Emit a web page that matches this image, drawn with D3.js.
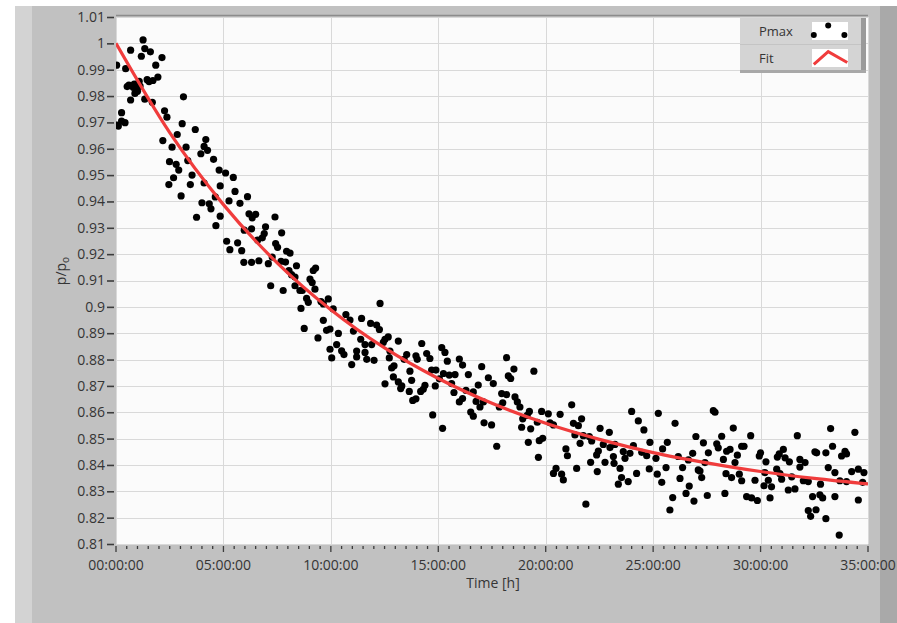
<!DOCTYPE html>
<html>
<head>
<meta charset="utf-8">
<script src="https://cdn.jsdelivr.net/npm/d3@7"></script>
<style>
  body { margin: 0; background: #fff; }
  svg { display: block; font-family: "Open Sans", "Noto Sans", sans-serif; }
</style>
</head>
<body>
<svg id="chart" width="897" height="623"></svg>
<script>
// Pmax samples: [time in hours, p/p0]
const pmaxPoints = [
  [1.26,1.0013],[1.34,0.998],[1.6,0.9968],[0.68,0.9974],[1.18,0.9951],[2.14,0.9946],[0.03,0.9917],[0.45,0.9904],
  [1.85,0.9917],[1.95,0.9872],[1.72,0.9859],[1.54,0.9855],[1.08,0.9856],[0.52,0.9836],[0.8,0.9833],[0.95,0.9827],
  [0.88,0.981],[0.68,0.9785],[1.34,0.9788],[1.69,0.9776],[3.14,0.9797],[0.26,0.9737],[0.26,0.9705],[0.42,0.9699],
  [0.11,0.9686],[0.05,0.969],[2.26,0.9744],[2.37,0.972],[3.08,0.9695],[3.69,0.9673],[2.85,0.9654],[2.18,0.9631],
  [2.61,0.9606],[3.26,0.9606],[4.18,0.9635],[4.1,0.9609],[3.95,0.9581],[4.26,0.9594],[3.34,0.9555],[2.49,0.9551],
  [2.8,0.9541],[4.54,0.956],[2.92,0.9519],[3.54,0.95],[4.8,0.9519],[2.68,0.949],[2.46,0.9464],[3.46,0.9464],
  [4.1,0.947],[4.85,0.9459],[3.03,0.9421],[4.62,0.9417],[4.0,0.9395],[4.34,0.9391],[4.42,0.9372],[3.75,0.934],
  [4.85,0.9344],[4.65,0.9308],[0.85,0.9845],[1.0,0.9818],[1.12,0.9838],[0.6,0.9842],[1.45,0.9862],
  // 5 - 10 h
  [5.1,0.9508],[5.46,0.9491],[5.54,0.9438],[5.26,0.9402],[5.77,0.9393],[6.12,0.9418],[6.19,0.9353],[6.5,0.9351],
  [6.34,0.9338],[7.4,0.9341],[5.97,0.9291],[6.31,0.9296],[6.96,0.9304],[6.9,0.9278],[6.81,0.9262],[6.59,0.9253],
  [7.71,0.9281],[5.15,0.9249],[5.66,0.9243],[5.3,0.9217],[5.85,0.9213],[7.43,0.924],[7.52,0.9226],[7.94,0.9211],
  [8.1,0.9204],[7.27,0.9189],[5.95,0.9169],[6.31,0.9169],[6.65,0.9175],[7.09,0.9164],[7.68,0.9173],[7.89,0.917],
  [8.4,0.9156],[8.05,0.9138],[8.17,0.9122],[9.29,0.9147],[9.18,0.9138],[8.33,0.9113],[9.03,0.9105],[9.13,0.9092],
  [7.2,0.908],[7.78,0.9062],[8.33,0.908],[8.56,0.9062],[8.67,0.9062],[9.26,0.9067],[8.87,0.9032],[8.95,0.9017],
  [8.61,0.8994],[9.54,0.902],[9.65,0.9011],[9.88,0.903],[9.65,0.8949],[8.76,0.8918],[9.8,0.8911],[9.4,0.8882],
  // 10 - 15 h
  [10.11,0.8992],[9.96,0.8916],[12.29,0.9013],[10.7,0.8971],[10.89,0.895],[11.43,0.8956],[11.85,0.8937],[12.13,0.8931],
  [12.26,0.8914],[11.05,0.8908],[10.35,0.8899],[11.39,0.8877],[12.52,0.8877],[12.67,0.8886],[13.14,0.887],[14.23,0.8861],
  [10.27,0.8857],[11.59,0.8857],[11.9,0.8857],[12.44,0.8865],[9.96,0.8839],[10.5,0.8833],[10.61,0.8819],[11.2,0.8832],
  [11.59,0.8827],[12.75,0.8832],[13.53,0.8819],[13.96,0.8814],[14.46,0.8823],[10.04,0.8806],[11.2,0.881],[11.67,0.8801],
  [12.01,0.8797],[12.72,0.8806],[13.41,0.8801],[14.02,0.8801],[14.61,0.8804],[10.97,0.8781],[12.94,0.8776],[12.83,0.8768],
  [13.68,0.8756],[14.69,0.876],[14.89,0.876],[12.91,0.8734],[13.14,0.8715],[15.05,0.8727],[12.52,0.8708],[13.3,0.87],
  [13.25,0.869],[13.76,0.8721],[14.38,0.8702],[14.3,0.8687],[14.86,0.87],[13.65,0.8679],[14.18,0.8679],[13.96,0.8651],
  [13.81,0.8645],[14.74,0.859],
  // 15 - 20 h
  [15.16,0.8845],[15.31,0.8827],[15.42,0.8794],[15.98,0.8802],[16.13,0.8779],[18.18,0.8807],[17.02,0.8773],[18.52,0.8764],
  [19.45,0.8756],[15.24,0.8747],[15.51,0.8741],[15.78,0.8743],[16.4,0.8743],[18.26,0.8738],[18.37,0.8728],[17.33,0.8731],
  [17.56,0.8709],[15.62,0.8709],[16.86,0.8703],[16.29,0.8683],[16.63,0.8677],[15.73,0.8675],[17.95,0.8671],[18.18,0.8667],
  [18.57,0.8658],[16.13,0.8652],[15.98,0.8639],[16.76,0.8641],[17.1,0.8639],[18.0,0.8636],[18.68,0.8639],[16.94,0.862],
  [17.84,0.862],[18.8,0.862],[19.81,0.8603],[19.24,0.8603],[20.12,0.8594],[16.51,0.8601],[16.63,0.8585],[19.14,0.8588],
  [18.93,0.8575],[19.61,0.8562],[20.2,0.856],[17.13,0.856],[17.48,0.8552],[15.2,0.8539],[18.88,0.8543],[19.3,0.8537],
  [19.86,0.8501],[19.7,0.8492],[19.19,0.8486],[17.72,0.8471],[19.66,0.8429],
  // 20 - 27 h
  [21.21,0.8628],[24.0,0.8603],[25.24,0.8596],[20.67,0.8592],[24.31,0.8567],[21.67,0.8575],[26.02,0.8558],[21.29,0.8558],
  [21.52,0.8549],[20.36,0.8552],[22.53,0.8539],[24.57,0.8533],[22.96,0.8524],[21.36,0.8514],[21.75,0.8511],[22.03,0.8508],
  [26.99,0.8508],[22.14,0.8491],[21.6,0.8482],[24.85,0.8486],[25.66,0.8486],[22.68,0.8478],[23.22,0.8478],[24.08,0.8473],
  [22.99,0.8466],[20.94,0.8461],[25.44,0.8461],[22.45,0.8453],[23.61,0.8451],[23.92,0.8444],[24.47,0.8448],[26.84,0.8444],
  [21.01,0.8435],[22.37,0.8438],[23.15,0.8432],[24.7,0.8435],[26.17,0.8432],[25.13,0.8425],[26.64,0.8419],[22.09,0.841],
  [22.76,0.841],[23.18,0.8406],[23.69,0.8425],[21.44,0.8387],[20.48,0.8387],[23.46,0.8387],[24.82,0.8385],[25.6,0.839],
  [26.37,0.839],[27.1,0.8381],[22.4,0.8375],[20.36,0.8368],[20.74,0.8365],[24.23,0.8368],[25.19,0.8365],[23.53,0.8352],
  [26.25,0.8349],[20.82,0.8343],[23.84,0.8337],[25.4,0.8334],[23.38,0.8327],[26.68,0.832],[26.53,0.8292],[25.91,0.8276],
  [26.9,0.8263],[21.87,0.8251],[25.78,0.8229],
  // 27 - 35 h
  [27.88,0.86],[27.8,0.8606],[28.73,0.854],[28.19,0.8509],[29.54,0.8511],[31.71,0.8511],[33.26,0.8538],[34.39,0.8524],
  [27.34,0.8484],[27.96,0.848],[28.03,0.8465],[28.58,0.8459],[29.12,0.8471],[29.23,0.8471],[33.35,0.8471],[31.06,0.8459],
  [32.53,0.845],[32.61,0.8446],[33.04,0.8446],[33.93,0.8452],[34.0,0.8442],[27.57,0.8446],[28.42,0.8452],[30.0,0.8446],
  [30.87,0.8442],[28.92,0.8437],[30.78,0.843],[29.94,0.8434],[31.14,0.8427],[28.27,0.8421],[31.83,0.8421],[32.07,0.8409],
  [31.34,0.8412],[28.81,0.8409],[30.25,0.8412],[33.77,0.8434],[27.41,0.8409],[31.83,0.8392],[33.15,0.839],[30.75,0.8384],
  [34.55,0.8384],[27.18,0.8377],[28.39,0.8367],[29.01,0.8365],[30.2,0.8371],[30.9,0.8367],[33.46,0.8371],[34.24,0.8375],
  [34.81,0.8371],[28.65,0.8352],[29.12,0.834],[29.74,0.8342],[30.36,0.8342],[31.45,0.8355],[30.98,0.8346],[31.99,0.834],
  [32.22,0.8337],[33.69,0.834],[34.0,0.8337],[27.26,0.8352],[32.79,0.8327],[34.75,0.8334],[30.16,0.8321],[30.51,0.8317],
  [31.6,0.8309],[31.29,0.8305],[28.34,0.8292],[27.52,0.8284],[32.76,0.8287],[33.46,0.828],[29.35,0.828],[29.58,0.8275],
  [32.42,0.828],[30.44,0.8275],[29.85,0.8265],[34.55,0.8267],[32.89,0.8275],[32.22,0.8227],[32.58,0.823],[32.33,0.8205],
  [33.04,0.8196],[33.66,0.8134]
];

// Fit curve
const fitHours  = [0, 2.5, 5, 7.5, 10, 12.5, 15, 17.5, 20, 22.5, 25, 27.5, 30, 32.5, 35];
const fitValues = [1.0, 0.9661, 0.9388, 0.9167, 0.8989, 0.8844, 0.8728, 0.8634, 0.8558, 0.8497, 0.8447, 0.8408, 0.8375, 0.8349, 0.8328];

const yTicks = [0.81,0.82,0.83,0.84,0.85,0.86,0.87,0.88,0.89,0.9,0.91,0.92,0.93,0.94,0.95,0.96,0.97,0.98,0.99,1,1.01];
const xTickHours = [0, 5, 10, 15, 20, 25, 30, 35];
const legendNames = ["Pmax", "Fit"];

const svg = d3.select("#chart");
const W = 897, H = 623;
const plot = { left: 116, right: 868, top: 17, bottom: 544 };
const textColor = "#353535";

const x = d3.scaleLinear().domain([0, 35]).range([plot.left, plot.right]);
const y = d3.scaleLinear().domain([0.81, 1.01]).range([plot.bottom, plot.top]);

// panel frame
svg.append("rect").attr("x", 15).attr("y", 6).attr("width", W - 15).attr("height", H - 6).attr("fill", "#c1c1c1");
svg.append("rect").attr("x", 15).attr("y", 6).attr("width", 17).attr("height", H - 6).attr("fill", "#d3d3d3");
svg.append("rect").attr("x", 880).attr("y", 6).attr("width", 17).attr("height", H - 6).attr("fill", "#a9a9a9");

// plot area
svg.append("rect")
  .attr("x", plot.left).attr("y", plot.top)
  .attr("width", plot.right - plot.left).attr("height", plot.bottom - plot.top)
  .attr("fill", "#fbfbfb");

const grid = svg.append("g").attr("stroke", "#d9d9d9").attr("stroke-width", 1);
grid.selectAll(".hg").data(yTicks).join("line")
  .attr("x1", plot.left).attr("x2", plot.right)
  .attr("y1", d => Math.round(y(d)) + 0.5).attr("y2", d => Math.round(y(d)) + 0.5);
grid.selectAll(".vg").data(xTickHours).join("line")
  .attr("y1", plot.top).attr("y2", plot.bottom)
  .attr("x1", d => Math.round(x(d)) + 0.5).attr("x2", d => Math.round(x(d)) + 0.5);

// top edge of plot
svg.append("line").attr("x1", plot.left).attr("x2", plot.right)
  .attr("y1", plot.top - 1.5).attr("y2", plot.top - 1.5)
  .attr("stroke", "#8c8c8c").attr("stroke-width", 1.5);

// y axis
const fmt = d => String(+d.toFixed(2));
const yAxis = svg.append("g")
  .attr("transform", `translate(${plot.left - 2},0)`)
  .call(d3.axisLeft(y).tickValues(yTicks).tickSize(7).tickPadding(2).tickFormat(fmt));
yAxis.select(".domain").remove();
yAxis.selectAll(".tick line").attr("stroke", "#3c3c3c").attr("stroke-width", 1.6);
yAxis.selectAll(".tick text").attr("fill", textColor).style("font-size", "14px")
  .style("font-family", "'Open Sans', sans-serif");

// x axis: minor ticks every half hour, major every 5 h
const minorHours = d3.range(0, 35.01, 0.5);
svg.append("g").selectAll("line").data(minorHours).join("line")
  .attr("x1", d => x(d)).attr("x2", d => x(d))
  .attr("y1", plot.bottom + 2).attr("y2", d => plot.bottom + (d % 5 === 0 ? 8 : 5))
  .attr("stroke", "#3c3c3c").attr("stroke-width", 1.3);

const hms = h => {
  const hh = Math.floor(h), mm = Math.round((h - hh) * 60);
  return d3.format("02")(hh) + ":" + d3.format("02")(mm) + ":00";
};
svg.append("g").selectAll("text").data(xTickHours).join("text")
  .attr("x", d => x(d)).attr("y", plot.bottom + 26)
  .attr("text-anchor", "middle")
  .attr("fill", textColor).style("font-size", "14px")
  .text(hms);

// axis titles
svg.append("text")
  .attr("x", (plot.left + plot.right) / 2 + 1).attr("y", 588)
  .attr("text-anchor", "middle").attr("fill", textColor).style("font-size", "14px")
  .text("Time [h]");

const yl = svg.append("text")
  .attr("transform", "translate(66,271) rotate(-90)")
  .attr("text-anchor", "middle").attr("fill", textColor).style("font-size", "14px");
yl.append("tspan").text("p/p");
yl.append("tspan").attr("dy", 3).style("font-size", "10px").text("o");

// clip for data
svg.append("clipPath").attr("id", "clip").append("rect")
  .attr("x", plot.left).attr("y", plot.top)
  .attr("width", plot.right - plot.left).attr("height", plot.bottom - plot.top);

const dataG = svg.append("g").attr("clip-path", "url(#clip)");

dataG.selectAll("circle").data(pmaxPoints).join("circle")
  .attr("cx", d => x(d[0])).attr("cy", d => y(d[1]))
  .attr("r", 3.6).attr("fill", "#000");

const fitLine = d3.line()
  .x((d, i) => x(fitHours[i]))
  .y(d => y(d))
  .curve(d3.curveMonotoneX);

dataG.append("path")
  .attr("d", fitLine(fitValues))
  .attr("fill", "none").attr("stroke", "#f03c3c").attr("stroke-width", 3.2);

// legend
const lg = svg.append("g").attr("transform", "translate(740,18)");
lg.append("rect").attr("width", 126).attr("height", 55).attr("fill", "#d4d4d4");
lg.append("rect").attr("x", 121).attr("width", 5).attr("height", 55).attr("fill", "#9a9a9a");
lg.append("rect").attr("y", 52).attr("width", 126).attr("height", 3).attr("fill", "#a8a8a8");
lg.append("line").attr("x1", 0).attr("x2", 121).attr("y1", 26.5).attr("y2", 26.5).attr("stroke", "#c4c4c4");
lg.selectAll(".ln").data(legendNames).join("text")
  .attr("x", 19).attr("y", (d, i) => 18 + i * 27)
  .attr("fill", textColor).style("font-size", "13px").text(d => d);
lg.selectAll(".box").data(legendNames).join("rect")
  .attr("x", 72).attr("y", (d, i) => 4 + i * 27)
  .attr("width", 36).attr("height", 18).attr("fill", "#fff");
const iconX = d3.scaleLinear().domain([0, 1]).range([72, 108]);
const iconDots = [[0.05, 0.72], [0.45, 0.2], [0.9, 0.72]];
lg.selectAll(".dot").data(iconDots).join("circle")
  .attr("cx", d => iconX(d[0])).attr("cy", d => 4 + d[1] * 18)
  .attr("r", 3).attr("fill", "#000");
const iconChevron = [[0.05, 0.85], [0.45, 0.15], [0.98, 0.75]];
lg.append("path")
  .attr("d", d3.line().x(d => iconX(d[0])).y(d => 31 + d[1] * 18)(iconChevron))
  .attr("fill", "none").attr("stroke", "#f03c3c").attr("stroke-width", 3);
</script>
</body>
</html>
